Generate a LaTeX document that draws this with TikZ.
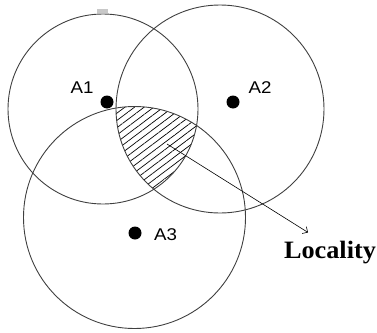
\documentclass[tikz,border=0pt]{standalone}
\usepackage{fontspec}
\setmainfont{Liberation Serif}
\setsansfont{Liberation Sans}
\usepackage{xcolor}
\usetikzlibrary{arrows.meta,positioning,calc,patterns.meta}
\definecolor{Ring}{HTML}{404040}
\definecolor{Smudge}{HTML}{C8C8C8}

\begin{document}
\begin{tikzpicture}[x=1pt,y=-1pt,
    ring/.style={draw=Ring, line width=0.9pt},
    dot/.style={circle, fill=black, inner sep=0pt, minimum size=13pt},
    tag/.style={font=\sffamily\fontsize{17}{19}\selectfont, xscale=1.1, inner sep=0pt},
    pointer/.style={line width=0.6pt, -{Straight Barb[length=4pt,width=8pt]}}]
    \useasboundingbox (0,0) rectangle (377,332);
    \fill[Smudge] (97,9) rectangle (108,13);
    % circle centres
    \coordinate (c1) at (103,109);
    \coordinate (c2) at (220,109);
    \coordinate (c3) at (134.5,217.5);
    % shared region
    \begin{scope}
      \clip (c1) circle (95);
      \clip (c2) circle (104);
      \fill[pattern={Lines[angle=37,distance=5.8pt,line width=0.7pt]}] (c3) circle (111);
    \end{scope}
    \draw[ring] (c1) circle (95);
    \draw[ring] (c2) circle (104);
    \draw[ring] (c3) circle (111);
    % anchors
    \node[dot] (A1) at (107,102) {};
    \node[dot] (A2) at (233,102) {};
    \node[dot] (A3) at (135,233) {};
    \node[tag] (t1) at (82,88) {A1};
    \node[tag] (t2) at (260,87.5) {A2};
    \node[tag] (t3) at (165.5,235) {A3};
    \coordinate (spot) at (167,144);
    \node[font=\bfseries\fontsize{25}{28}\selectfont, xscale=1.05, inner sep=0pt, anchor=base] (loc) at (330,258) {Locality};
    \draw[pointer] (spot) -- ([shift={(-22,-8)}]loc.north);
\end{tikzpicture}
\end{document}
